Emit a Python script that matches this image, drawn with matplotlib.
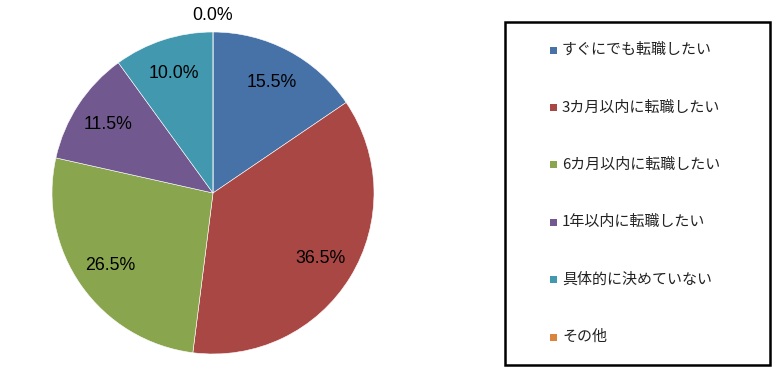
import matplotlib.pyplot as plt
import numpy as np
from matplotlib.patches import Rectangle

plt.rcParams['font.family'] = ['Noto Sans CJK JP', 'DejaVu Sans']

categories = ['すぐにでも転職したい', '3カ月以内に転職したい', '6カ月以内に転職したい',
              '1年以内に転職したい', '具体的に決めていない', 'その他']
shares = [15.5, 36.5, 26.5, 11.5, 10.0, 0.0]
colors = ['#4672A8', '#A94744', '#89A54E', '#71588F', '#4198AF', '#DB843D']

fig = plt.figure(figsize=(7.8, 3.77), dpi=100)

# pie
ax = fig.add_axes([52 / 780, 23 / 377, 322 / 780, 322 / 377])
wedges, _ = ax.pie(shares, colors=colors, startangle=90, counterclock=False, radius=1,
                   wedgeprops=dict(edgecolor='white', linewidth=0.4))
ax.set_xlim(-1, 1)
ax.set_ylim(-1, 1)
ax.set_aspect('equal')
ax.axis('off')

# percentage labels
for w, v in zip(wedges, shares):
    mid = np.deg2rad((w.theta1 + w.theta2) / 2)
    d = 0.78 if v > 0 else 1.1
    ax.text(d * np.cos(mid), d * np.sin(mid), f'{v:.1f}%', ha='center', va='center',
            fontsize=12.8, family=['Liberation Sans'], color='black', clip_on=False)

# legend box
lax = fig.add_axes([0, 0, 1, 1])
lax.set_xlim(0, 780)
lax.set_ylim(377, 0)
lax.axis('off')
lax.add_patch(Rectangle((505, 22), 265, 343, fill=False, edgecolor='black', linewidth=1.8))
row_y = np.linspace(50, 337, len(categories))
for y, name, c in zip(row_y, categories, colors):
    lax.add_patch(Rectangle((550, y - 3.5), 7, 7, facecolor=c, edgecolor='none'))
    lax.text(562, y, name, fontsize=10.8, va='center', ha='left', color='#222222')

fig.savefig('out.png', dpi=100)
